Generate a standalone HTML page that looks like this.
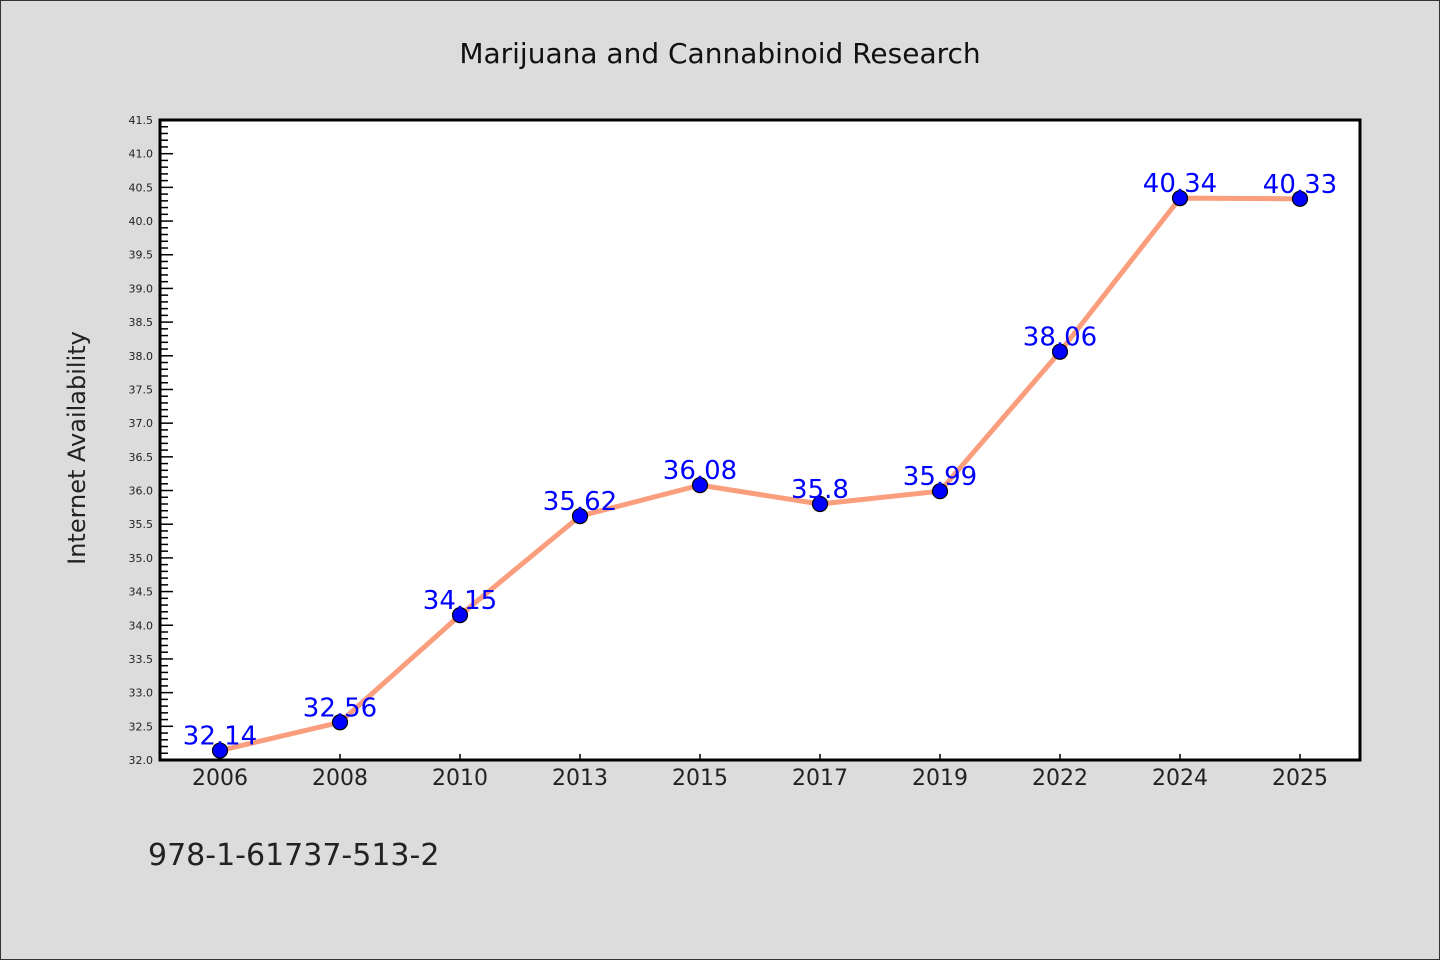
<!DOCTYPE html>
<html><head><meta charset="utf-8"><style>
body{margin:0;width:1440px;height:960px;background:#dcdcdc;overflow:hidden}
svg{display:block}
text{font-family:"DejaVu Sans","Liberation Sans",sans-serif}
</style></head><body>
<svg width="1440" height="960">
<rect x="0.5" y="0.5" width="1439" height="959" fill="#dcdcdc" stroke="#333"/>
<text x="720" y="63" text-anchor="middle" font-size="28" fill="#111" font-family="'DejaVu Sans Mono','Liberation Mono',monospace">Marijuana and Cannabinoid Research</text>
<rect x="160" y="120" width="1200" height="640" fill="#fff" stroke="#000" stroke-width="3"/>
<text transform="translate(85,448) rotate(-90)" text-anchor="middle" font-size="24" fill="#222" font-family="'DejaVu Sans Mono','Liberation Mono',monospace">Internet Availability</text>
<text x="148" y="865" font-size="30" fill="#222">978-1-61737-513-2</text>
<g id="axes"></g><g id="series"></g>
</svg>
<script>
const categories=["2006","2008","2010","2013","2015","2017","2019","2022","2024","2025"];
const values=[32.14,32.56,34.15,35.62,36.08,35.8,35.99,38.06,40.34,40.33];
const labels=["32.14","32.56","34.15","35.62","36.08","35.8","35.99","38.06","40.34","40.33"];
const yMin=32.0,yMax=41.5;
const NS="http://www.w3.org/2000/svg";
const X0=160,X1=1360,Y0=760,Y1=120;
const xs=i=>X0+60+i*(X1-X0-120)/(categories.length-1);
const ys=v=>Y0-(v-yMin)/(yMax-yMin)*(Y0-Y1);
function mk(t,a,p){const e=document.createElementNS(NS,t);for(const k in a)e.setAttribute(k,a[k]);p.appendChild(e);return e;}
const ax=document.getElementById('axes'),se=document.getElementById('series');
for(let k=0;k<=95;k++){const v=yMin+k*0.1,y=ys(v),maj=k%5===0;
 const l=mk('line',{x1:X0,x2:X0+(maj?13:8),y1:y,y2:y,stroke:'#000','stroke-width':1.5},ax);
 
 
 if(maj){const t=mk('text',{x:X0-7,y:y+4,'text-anchor':'end','font-size':11,fill:'#222'},ax);t.textContent=v.toFixed(1);
 
 }}
categories.forEach((c,i)=>{const x=xs(i);
 const l=mk('line',{x1:x,x2:x,y1:Y0,y2:Y0-6,stroke:'#000','stroke-width':1.5},ax);
 
 
 const t=mk('text',{x:x,y:Y0+25,'text-anchor':'middle','font-size':22,fill:'#222'},ax);t.textContent=c;
 
 });
const pl=mk('polyline',{points:values.map((v,i)=>xs(i)+','+ys(v)).join(' '),fill:'none',stroke:'#fa9e7d','stroke-width':5,'stroke-linejoin':'round'},se);


values.forEach((v,i)=>{
 const c=mk('circle',{cx:xs(i),cy:ys(v),r:7.5,fill:'#0000ff',stroke:'#000','stroke-width':1.2},se);
 
 
 const t=mk('text',{x:xs(i),y:ys(v)-6,'text-anchor':'middle','font-size':26,fill:'#0000ff'},se);t.textContent=labels[i];
 
 });
</script>
</body></html>
